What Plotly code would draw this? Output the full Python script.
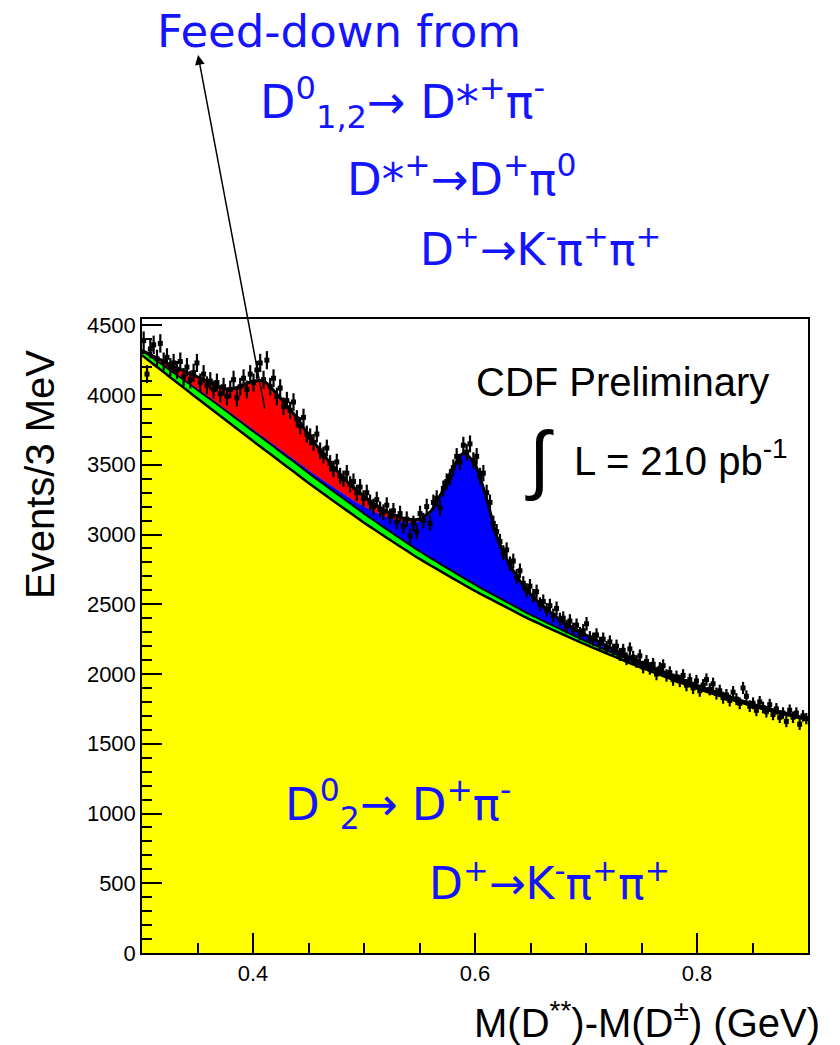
import plotly.graph_objects as go

# ---- fit components on a 0.01 GeV grid ----
x_fit = [round(0.30 + 0.01 * i, 2) for i in range(61)]
background = [4285, 4223, 4161, 4099, 4037, 3975, 3914, 3853, 3792, 3731,
              3670, 3610, 3550, 3490, 3430, 3370, 3312, 3255, 3198, 3141,
              3085, 3032, 2979, 2927, 2876, 2825, 2778, 2732, 2686, 2640,
              2595, 2553, 2512, 2471, 2430, 2390, 2353, 2317, 2281, 2245,
              2210, 2176, 2143, 2110, 2077, 2045, 2014, 1984, 1954, 1924,
              1895, 1869, 1844, 1819, 1794, 1770, 1749, 1729, 1709, 1689, 1670]
green_comp = [35, 42, 48, 53, 58, 62, 65, 67, 69, 70,
              71, 72, 72, 72, 72, 71, 70, 69, 68, 67,
              65, 63, 61, 59, 57, 55, 53, 51, 49, 47,
              45, 43, 41, 39, 37, 35, 33, 31, 29, 27,
              25, 24, 22, 21, 19, 18, 17, 16, 15, 14,
              13, 12, 11, 10, 9, 8, 7, 7, 6, 6, 5]
blue_comp = [0, 3, 4, 5, 6, 7, 8, 9, 10, 11,
             12, 13, 14, 16, 18, 20, 23, 27, 32, 38,
             50, 64, 85, 115, 154, 215, 321, 505, 734, 888,
             856, 666, 420, 285, 200, 145, 105, 78, 60, 50,
             42, 35, 30, 26, 22, 19, 16, 14, 12, 10,
             9, 8, 7, 6, 5, 5, 4, 4, 3, 3, 3]
red_comp = [0, 12, 27, 43, 64, 86, 108, 126, 169, 258,
            347, 405, 384, 352, 310, 254, 205, 158, 122, 95,
            75, 58, 43, 31, 22, 16, 13, 12, 11, 10,
            9, 8, 7, 6, 5, 4, 4, 3, 3, 3,
            3, 2, 2, 2, 2, 2, 2, 2, 2, 2,
            2, 1, 1, 1, 1, 1, 1, 1, 1, 1, 1]

# ---- data histogram: 3 MeV bins from 0.30 to 0.90 ----
bin_centers = [round(0.3015 + 0.003 * i, 4) for i in range(200)]
counts = [4390, 4150, 4330, 4360, 4260, 4370, 4240, 4270, 4200, 4230,
          4180, 4240, 4130, 4200, 4110, 4160, 4230, 4090, 4150, 4070,
          4100, 4040, 4090, 4010, 4060, 3990, 4040, 4110, 3980, 4060,
          4120, 4040, 4150, 4090, 4180, 4230, 4110, 4250, 4060, 4120,
          3990, 4050, 3920, 3960, 3890, 3950, 3830, 3780, 3840, 3720,
          3700, 3660, 3720, 3600, 3570, 3620, 3510, 3470, 3520, 3420,
          3400, 3440, 3360, 3380, 3300, 3340, 3260, 3300, 3230, 3200,
          3250, 3180, 3160, 3210, 3130, 3170, 3090, 3150, 3060, 3110,
          2990, 3080, 3020, 3150, 3100, 3200, 3080, 3230, 3260, 3190,
          3330, 3380, 3410, 3480, 3560, 3520, 3640, 3590, 3650, 3530,
          3560, 3420, 3440, 3300, 3230, 3080, 3020, 2950, 2870, 2890,
          2790, 2810, 2700, 2740, 2650, 2600, 2630, 2560, 2590, 2500,
          2520, 2460, 2490, 2420, 2470, 2390, 2400, 2340, 2380, 2320,
          2350, 2290, 2310, 2360, 2260, 2250, 2280, 2220, 2250, 2190,
          2230, 2170, 2200, 2140, 2170, 2110, 2180, 2120, 2090, 2130,
          2050, 2090, 2040, 2070, 2000, 2040, 2060, 1990, 2010, 1960,
          1980, 1950, 1990, 1920, 1960, 1900, 1950, 1880, 1920, 1960,
          1890, 1930, 1860, 1880, 1830, 1850, 1810, 1870, 1820, 1790,
          1900, 1840, 1770, 1790, 1740, 1800, 1760, 1730, 1780, 1710,
          1750, 1690, 1720, 1660, 1740, 1690, 1720, 1640, 1700, 1680]
errors = [c ** 0.5 for c in counts]

x_ticks = [0.4, 0.6, 0.8]
x_tick_labels = ["0.4", "0.6", "0.8"]

BLUE_TXT = "#1414FF"
TXT_FONT = "DejaVu Sans"
AX_FONT = "Liberation Sans"

fig = go.Figure()
fig.add_trace(go.Scatter(x=x_fit, y=background, stackgroup="fit", mode="lines",
                         line=dict(color="black", width=2.5, shape="spline", smoothing=0.6),
                         fillcolor="#FFFF00", hoverinfo="skip"))
fig.add_trace(go.Scatter(x=x_fit, y=green_comp, stackgroup="fit", mode="lines",
                         line=dict(color="black", width=2, shape="spline", smoothing=0.6),
                         fillcolor="#00FF00", hoverinfo="skip"))
fig.add_trace(go.Scatter(x=x_fit, y=blue_comp, stackgroup="fit", mode="lines",
                         line=dict(color="#0000FF", width=0.5, shape="spline", smoothing=0.6),
                         fillcolor="#0000FF", hoverinfo="skip"))
fig.add_trace(go.Scatter(x=x_fit, y=red_comp, stackgroup="fit", mode="lines",
                         line=dict(color="black", width=3, shape="spline", smoothing=0.6),
                         fillcolor="#FF0000", hoverinfo="skip"))
fig.add_trace(go.Scatter(x=bin_centers, y=counts, mode="markers",
                         marker=dict(symbol="square", size=5, color="black"),
                         error_y=dict(type="data", array=errors, color="black", thickness=2.2, width=0),
                         error_x=dict(type="constant", value=0.0015, color="black", thickness=2, width=0),
                         hoverinfo="skip"))

axis_common = dict(showline=True, linecolor="black", linewidth=1.5, mirror=True,
                   ticks="inside", ticklen=20, tickwidth=1.5, tickcolor="black",
                   showgrid=False, zeroline=False,
                   tickfont=dict(family=AX_FONT, size=22, color="black"))
fig.update_xaxes(range=[0.3, 0.9], tickvals=x_ticks, ticktext=x_tick_labels,
                 minor=dict(dtick=0.05, tick0=0.3, ticks="inside", ticklen=10, tickwidth=1.5, tickcolor="black"),
                 **axis_common)
fig.update_yaxes(range=[0, 4545], dtick=500, tick0=0,
                 minor=dict(dtick=100, ticks="inside", ticklen=10, tickwidth=1.5, tickcolor="black"),
                 **axis_common)

W, H = 840, 1045
L, R, T, B = 142, 32, 319, 92
pw, ph = W - L - R, H - T - B

def px(xp):
    return (xp - L) / pw

def py(yp):
    return (T + ph - yp) / ph

ann = []
ann.append(dict(text="Events/3 MeV", textangle=-90, x=px(40), y=py(475), xref="paper", yref="paper",
                xanchor="center", yanchor="middle", showarrow=False,
                font=dict(family=AX_FONT, size=40, color="black")))
ann.append(dict(text="M(D<sup>**</sup>)-M(D<sup>±</sup>) (GeV)", x=px(822), y=py(1020), xref="paper", yref="paper",
                xanchor="right", yanchor="middle", showarrow=False,
                font=dict(family=AX_FONT, size=40, color="black")))
ann.append(dict(text="CDF Preliminary", x=px(474), y=py(382), xref="paper", yref="paper",
                xanchor="left", yanchor="middle", showarrow=False,
                font=dict(family=AX_FONT, size=40, color="black")))
ann.append(dict(text="∫", x=px(539), y=py(459), xref="paper", yref="paper",
                xanchor="center", yanchor="middle", showarrow=False,
                font=dict(family=AX_FONT, size=76, color="black")))
ann.append(dict(text="L = 210 pb<sup>-1</sup>", x=px(572), y=py(458), xref="paper", yref="paper",
                xanchor="left", yanchor="middle", showarrow=False,
                font=dict(family=AX_FONT, size=40, color="black")))

blue_texts = [
    ("Feed-down from", 155, 32, 45),
    ("D<sup>0</sup><sub>1,2</sub>→ D*<sup>+</sup>π<sup>-</sup>", 258, 103, 46),
    ("D*<sup>+</sup>→D<sup>+</sup>π<sup>0</sup>", 345, 176, 45),
    ("D<sup>+</sup>→K<sup>-</sup>π<sup>+</sup>π<sup>+</sup>", 418, 246, 44),
    ("D<sup>0</sup><sub>2</sub>→ D<sup>+</sup>π<sup>-</sup>", 283, 804, 45),
    ("D<sup>+</sup>→K<sup>-</sup>π<sup>+</sup>π<sup>+</sup>", 427, 880, 44),
]
for txt, xl, yc, fs in blue_texts:
    ann.append(dict(text=txt, x=px(xl), y=py(yc), xref="paper", yref="paper",
                    xanchor="left", yanchor="middle", showarrow=False,
                    font=dict(family=TXT_FONT, size=fs, color=BLUE_TXT)))

# arrow from the feed-down bump up to the label
ann.append(dict(text="", x=0.3505, y=6437, xref="x", yref="y",
                ax=0.4108, ay=3892, axref="x", ayref="y",
                showarrow=True, arrowhead=2, arrowsize=1.3, arrowwidth=1.5, arrowcolor="black"))

fig.update_layout(width=W, height=H, margin=dict(l=L, r=R, t=T, b=B),
                  paper_bgcolor="white", plot_bgcolor="white", showlegend=False,
                  annotations=ann)

fig.write_html("out.html", config={"displayModeBar": False},
               post_script="document.body.style.margin='0';")
